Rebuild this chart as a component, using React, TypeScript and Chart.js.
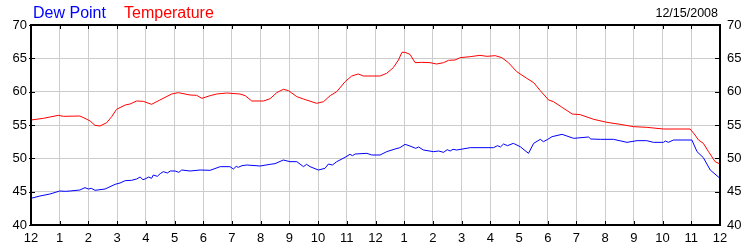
import React, { useEffect, useRef } from "react";
import { Chart, registerables } from "chart.js";

Chart.register(...registerables);

const hourLabels = ["12","1","2","3","4","5","6","7","8","9","10","11","12","1","2","3","4","5","6","7","8","9","10","11","12"];
const yTicks = [40, 45, 50, 55, 60, 65, 70];
const chartDate = "12/15/2008";
const seriesNames = ["Dew Point", "Temperature"];

const tempHours = [0,0.43,0.95,1.13,1.7,1.88,2.06,2.23,2.4,2.64,2.81,2.98,3.28,3.45,3.68,3.91,4.2,4.49,4.9,5.13,5.54,5.77,5.95,6.24,6.47,6.82,7.28,7.46,7.69,8.1,8.33,8.56,8.79,8.97,9.26,9.49,9.95,10.19,10.42,10.65,10.94,11.17,11.4,11.58,12.16,12.39,12.62,12.8,12.92,13.03,13.2,13.38,13.61,13.9,14.13,14.37,14.54,14.77,14.95,15.3,15.64,15.88,16.17,16.4,16.63,16.92,17.27,17.51,17.74,18.03,18.2,18.5,18.85,19.13,19.6,20.06,20.52,20.99,21.45,22.03,22.96,23.13,23.25,23.42,23.6,23.83,24.0];
const tempValues = [55.75,56.0,56.45,56.3,56.35,56.0,55.6,54.95,54.85,55.35,56.25,57.35,58.0,58.15,58.6,58.55,58.1,58.75,59.65,59.85,59.5,59.45,59.0,59.4,59.65,59.8,59.65,59.4,58.6,58.6,58.95,59.85,60.35,60.15,59.25,58.9,58.25,58.5,59.4,60.0,61.5,62.35,62.65,62.35,62.35,62.75,63.6,64.75,65.9,65.9,65.6,64.35,64.4,64.35,64.15,64.35,64.7,64.75,65.1,65.25,65.45,65.3,65.4,65.1,64.35,63.0,62.0,61.35,60.15,58.75,58.5,57.65,56.65,56.55,55.85,55.4,55.1,54.75,54.65,54.4,54.4,53.5,52.75,52.25,51.0,49.5,49.15];

const dewHours = [0,0.31,0.66,1.0,1.2,1.36,1.7,1.88,2.0,2.1,2.23,2.58,2.93,3.1,3.28,3.5,3.68,3.8,3.9,3.97,4.1,4.2,4.26,4.4,4.5,4.61,4.75,4.85,5.02,5.15,5.25,5.54,5.89,6.24,6.59,6.93,7.05,7.15,7.22,7.35,7.52,7.98,8.33,8.5,8.79,9.02,9.26,9.49,9.6,9.72,10.01,10.24,10.36,10.5,10.65,10.94,11.11,11.2,11.29,11.7,11.87,12.16,12.39,12.68,12.85,13.03,13.2,13.4,13.5,13.67,14.02,14.2,14.37,14.5,14.6,14.7,14.83,15.3,15.64,16.11,16.25,16.35,16.46,16.6,16.8,17.04,17.33,17.51,17.74,17.85,18.0,18.15,18.5,18.9,19.42,19.5,19.83,20.29,20.76,21.11,21.45,21.68,22.03,22.1,22.2,22.38,23.02,23.2,23.42,23.66,24.0];
const dewValues = [44.0,44.35,44.65,45.1,45.05,45.1,45.25,45.6,45.4,45.5,45.2,45.4,46.1,46.3,46.65,46.7,46.9,47.2,46.8,46.9,47.2,47.0,47.5,47.3,47.7,48.0,47.8,48.1,48.1,47.9,48.25,48.1,48.25,48.2,48.75,48.75,48.4,48.8,48.65,48.9,49.0,48.85,49.1,49.2,49.75,49.5,49.5,48.75,49.1,48.75,48.25,48.5,49.15,49.0,49.5,50.15,50.6,50.4,50.65,50.75,50.5,50.5,51.0,51.4,51.6,52.1,51.85,51.5,51.7,51.25,51.0,51.1,50.9,51.3,51.1,51.35,51.25,51.6,51.6,51.6,51.9,51.7,52.15,51.9,52.25,51.75,50.75,52.25,52.85,52.5,52.85,53.25,53.6,53.0,53.2,52.9,52.85,52.85,52.4,52.65,52.65,52.4,52.4,52.6,52.4,52.75,52.75,51.0,50.1,48.25,47.0];

const FONT = "'Liberation Sans', Arial, sans-serif";

const framePlugin = {
  id: "frame",
  afterDraw(chart: any) {
    const { ctx, chartArea } = chart;
    const { left, right, top, bottom } = chartArea;
    const xs = chart.scales.x;
    const yl = chart.scales.y;
    ctx.save();
    ctx.strokeStyle = "#000";
    ctx.lineWidth = 1;
    ctx.beginPath();
    xs.ticks.forEach((t: any) => {
      const px = Math.round(xs.getPixelForValue(t.value)) + 0.5;
      ctx.moveTo(px, bottom);
      ctx.lineTo(px, bottom - 4);
      ctx.moveTo(px, top);
      ctx.lineTo(px, top + 4);
    });
    yl.ticks.forEach((t: any) => {
      const py = Math.round(yl.getPixelForValue(t.value)) + 0.5;
      ctx.moveTo(left - 2, py);
      ctx.lineTo(left + 4, py);
      ctx.moveTo(right - 5, py);
      ctx.lineTo(right + 1, py);
    });
    ctx.stroke();
    ctx.lineWidth = 2;
    ctx.strokeRect(left, top, right - left, bottom - top);
    // legend
    ctx.textBaseline = "alphabetic";
    ctx.font = `16px ${FONT}`;
    ctx.textAlign = "left";
    ctx.fillStyle = "#0000ff";
    ctx.fillText(seriesNames[0], 33, 18);
    ctx.fillStyle = "#ff0000";
    ctx.fillText(seriesNames[1], 124, 18);
    ctx.font = `12.5px ${FONT}`;
    ctx.fillStyle = "#000";
    ctx.textAlign = "right";
    ctx.fillText(chartDate, 718, 17);
    ctx.restore();
  },
};

export default function App() {
  const ref = useRef<HTMLCanvasElement | null>(null);
  useEffect(() => {
    if (!ref.current) return;
    const tempData = tempHours.map((h, i) => ({ x: h, y: tempValues[i] }));
    const dewData = dewHours.map((h, i) => ({ x: h, y: dewValues[i] }));
    const tickFont = { family: FONT, size: 13 };
    const chart = new Chart(ref.current, {
      type: "line",
      data: {
        datasets: [
          { label: seriesNames[1], data: tempData, borderColor: "#ff0000", borderWidth: 1, pointRadius: 0, tension: 0, yAxisID: "y" },
          { label: seriesNames[0], data: dewData, borderColor: "#0000ff", borderWidth: 1, pointRadius: 0, tension: 0, yAxisID: "y" },
        ],
      },
      options: {
        animation: false,
        responsive: true,
        maintainAspectRatio: false,
        layout: { padding: { top: 25, left: 0, right: 0, bottom: 0 } },
        plugins: { legend: { display: false }, tooltip: { enabled: false }, title: { display: false } },
        scales: {
          x: {
            type: "linear",
            min: 0,
            max: 24,
            afterBuildTicks: (s: any) => { s.ticks = hourLabels.map((_, i) => ({ value: i })); },
            afterFit: (s: any) => { s.height = 25; },
            ticks: { callback: (v: any) => hourLabels[Math.round(v)] ?? "", color: "#000", font: tickFont, padding: 6, maxRotation: 0, autoSkip: false },
            grid: { color: "#cccccc", lineWidth: 1, drawTicks: false },
            border: { display: false },
          },
          y: {
            position: "left",
            min: 40,
            max: 70,
            afterBuildTicks: (s: any) => { s.ticks = yTicks.map((v) => ({ value: v })); },
            afterFit: (s: any) => { s.width = 31; },
            ticks: { color: "#000", font: tickFont, padding: 4 },
            grid: { color: "#cccccc", lineWidth: 1, drawTicks: false },
            border: { display: false },
          },
          y2: {
            position: "right",
            min: 40,
            max: 70,
            afterBuildTicks: (s: any) => { s.ticks = yTicks.map((v) => ({ value: v })); },
            afterFit: (s: any) => { s.width = 30; },
            ticks: { color: "#000", font: tickFont, padding: 7 },
            grid: { display: false, drawTicks: false },
            border: { display: false },
          },
        },
      },
      plugins: [framePlugin],
    });
    return () => chart.destroy();
  }, []);
  return (
    <div style={{ position: "fixed", left: 0, top: 0, width: 750, height: 250, background: "#fff" }}>
      <canvas ref={ref} />
    </div>
  );
}
